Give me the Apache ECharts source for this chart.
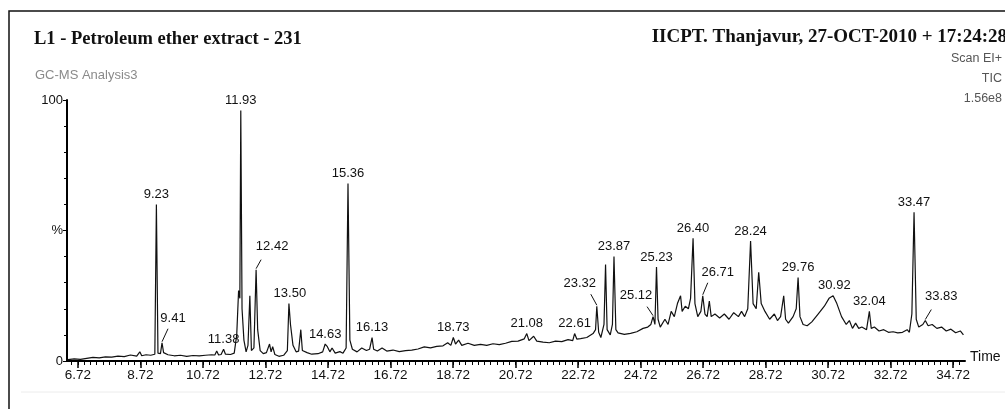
<!DOCTYPE html>
<html>
<head>
<meta charset="utf-8">
<title>GC-MS TIC</title>
<script src="https://cdn.jsdelivr.net/npm/echarts@6/dist/echarts.min.js"></script>
<style>
  * { margin: 0; padding: 0; }
  html, body { width: 1005px; height: 409px; background: #fff; overflow: hidden; }
  #main { width: 1005px; height: 409px; }
</style>
</head>
<body>
<div id="main"></div>
<script>
// retention time (min) and relative abundance (%) of the TIC trace
const rt = [
  6.40, 6.60, 6.80, 7.00, 7.20, 7.40, 7.60, 7.80, 8.00, 8.20, 8.40, 8.60, 8.70, 8.76, 8.90, 9.05, 9.18, 9.23, 9.28, 9.36,
  9.41, 9.46, 9.60, 9.80, 10.00, 10.20, 10.40, 10.60, 10.80, 11.00, 11.10, 11.16, 11.22, 11.30, 11.38, 11.44, 11.60, 11.72, 11.80, 11.86,
  11.90, 11.93, 11.97, 12.03, 12.10, 12.16, 12.22, 12.27, 12.35, 12.42, 12.47, 12.55, 12.65, 12.75, 12.85, 12.90, 12.95, 13.02, 13.15, 13.30,
  13.42, 13.47, 13.52, 13.60, 13.70, 13.78, 13.85, 13.90, 14.05, 14.20, 14.40, 14.55, 14.63, 14.70, 14.78, 14.85, 14.95, 15.10, 15.20, 15.30,
  15.36, 15.42, 15.50, 15.65, 15.80, 15.95, 16.05, 16.13, 16.18, 16.30, 16.45, 16.60, 16.80, 17.00, 17.20, 17.40, 17.60, 17.80, 18.00, 18.20,
  18.40, 18.55, 18.65, 18.73, 18.80, 18.90, 19.00, 19.20, 19.40, 19.60, 19.80, 20.00, 20.20, 20.40, 20.60, 20.80, 21.00, 21.08, 21.15, 21.30,
  21.40, 21.60, 21.80, 22.00, 22.20, 22.40, 22.55, 22.61, 22.68, 22.80, 23.00, 23.20, 23.28, 23.32, 23.38, 23.45, 23.55, 23.60, 23.65, 23.75,
  23.82, 23.87, 23.93, 24.00, 24.20, 24.40, 24.60, 24.80, 24.95, 25.05, 25.12, 25.18, 25.23, 25.28, 25.35, 25.50, 25.60, 25.70, 25.80, 25.90,
  26.00, 26.05, 26.15, 26.25, 26.32, 26.40, 26.46, 26.55, 26.65, 26.71, 26.78, 26.85, 26.92, 26.98, 27.10, 27.25, 27.40, 27.55, 27.70, 27.85,
  27.95, 28.05, 28.15, 28.24, 28.32, 28.42, 28.50, 28.58, 28.70, 28.85, 29.00, 29.10, 29.20, 29.30, 29.36, 29.45, 29.60, 29.70, 29.76, 29.82,
  29.92, 30.05, 30.20, 30.40, 30.60, 30.75, 30.88, 31.00, 31.15, 31.30, 31.40, 31.50, 31.60, 31.70, 31.80, 31.95, 32.04, 32.10, 32.20, 32.35,
  32.50, 32.65, 32.80, 32.95, 33.10, 33.25, 33.32, 33.40, 33.47, 33.54, 33.62, 33.75, 33.83, 33.92, 34.05, 34.20, 34.35, 34.50, 34.65, 34.80,
  34.95, 35.05
];
const abund = [
  0.5, 0.8, 0.6, 1.0, 1.4, 1.2, 1.6, 1.5, 1.9, 1.7, 2.3, 1.9, 3.5, 2.0, 2.4, 2.2, 2.6, 60, 3.0, 2.8,
  7, 3.2, 2.4, 2.0, 2.2, 1.8, 2.1, 2.0, 2.2, 2.4, 2.3, 3.8, 2.3, 2.5, 4.5, 2.6, 2.5, 3.0, 10, 27,
  24, 96, 20, 8, 3.5, 6, 25, 4, 5, 35, 12, 4, 2.8, 3.2, 6.5, 3.5, 5.5, 2.5, 1.8, 2.2,
  4, 22, 14, 6, 3.5, 3.8, 12, 4, 3.2, 2.6, 2.8, 3.5, 6.5, 5.5, 3.5, 5, 3.0, 3.6, 3.0, 5,
  68, 8, 4.5, 3.5, 5, 4, 4.5, 9, 4.5, 3.8, 5, 3.8, 4.2, 3.6, 4.0, 4.2, 4.6, 5.4, 5.0, 5.6,
  5.8, 7, 6, 9, 6.5, 8, 6, 6.8, 6.0, 6.4, 6.0, 6.6, 6.3, 6.8, 7.5, 7.6, 8.5, 10.5, 7.8, 9.5,
  7.6, 7.2, 7.0, 7.6, 7.4, 8.2, 7.8, 10.5, 8.4, 8.6, 9.0, 10.5, 12, 21, 11, 9, 14, 37, 12, 10,
  14, 40, 12, 10.8, 10.2, 10.6, 11.2, 12.5, 13, 14, 17, 14, 36, 16, 13, 16, 14, 19, 17, 22,
  25, 19, 21, 20, 24, 47, 22, 17, 19, 25, 18, 17, 23, 17, 18, 16.5, 18, 16, 18.5, 17,
  19, 17, 20, 46, 22, 20, 34, 22, 19, 16, 18, 15.5, 17, 25, 16, 14.5, 17, 20, 32, 17,
  14, 13.5, 15, 18, 21, 24, 25, 22, 17, 14, 15.5, 12.5, 14.5, 12.5, 13, 12, 19, 12.5, 13, 11.5,
  12, 11, 11.2, 10.8, 11, 12, 11, 18, 57, 16, 13, 14, 15.5, 13.5, 14, 12.5, 13, 11.5, 12.2, 10.8,
  11.5, 10
];

// annotated peaks (label = retention time), anchored at the peak apex
const peakLabels = ['9.23', '11.38', '11.93', '13.50', '14.63', '15.36', '16.13', '18.73', '21.08',
  '22.61', '23.87', '25.23', '26.40', '28.24', '29.76', '30.92', '32.04', '33.47'];
const peakHeights = [60, 4.5, 96, 22, 6.5, 68, 9, 9, 10.5, 10.5, 40, 36, 47, 46, 32, 25, 19, 57];

// peaks whose labels sit off to the side with a leader line
const leaderLabels = ['9.41', '12.42', '23.32', '25.12', '26.71', '33.83'];
const leaderHeights = [7, 35, 21, 17, 25, 15.5];

const xTickLabels = ['6.72', '8.72', '10.72', '12.72', '14.72', '16.72', '18.72',
  '20.72', '22.72', '24.72', '26.72', '28.72', '30.72', '32.72', '34.72'];

const headerRight = ['Scan EI+', 'TIC', '1.56e8'];

// pixel offsets from the apex: leader end (dx, dy), label centre (dx, dy)
const leaderShift = [
  [6, -14, 11, -24], [5, -10, 16, -23], [-6, -12, -17, -23],
  [-6, -10, -17, -21], [5, -13, 15, -23], [6, -11, 16, -24]
];

const X_MIN = 6.37, X_MAX = 35.1;
const sans = '"Liberation Sans", Arial, sans-serif';
const serif = '"Liberation Serif", "Times New Roman", serif';

const minorTicks = [];
for (let t = 6.52; t < X_MAX; t += 0.2) {
  minorTicks.push(+t.toFixed(2));
}

const myChart = echarts.init(document.getElementById('main'), null, { renderer: 'canvas' });

const titles = [
  {
    text: 'L1 - Petroleum ether extract - 231',
    left: 29, top: 25,
    textStyle: { fontFamily: serif, fontWeight: 'bold', fontSize: 18.5, color: '#111' }
  },
  {
    text: 'GC-MS Analysis3',
    left: 30, top: 64,
    textStyle: { fontFamily: sans, fontWeight: 'normal', fontSize: 13, color: '#8a8a8a' }
  },
  {
    text: 'IICPT. Thanjavur, 27-OCT-2010 + 17:24:28',
    right: -7, top: 23,
    textStyle: { fontFamily: serif, fontWeight: 'bold', fontSize: 19, color: '#111' }
  }
];
headerRight.forEach((s, i) => {
  titles.push({
    text: s, right: 3, top: 52 + i * 20, padding: 0,
    textStyle: { fontFamily: sans, fontWeight: 'normal', fontSize: 12.5, color: '#555' }
  });
});

const option = {
  animation: false,
  backgroundColor: '#fff',
  title: titles,
  graphic: [
    {
      type: 'rect', silent: true, z: 0,
      shape: { x: 9, y: 11, width: 1100, height: 500 },
      style: { fill: null, stroke: '#111', lineWidth: 1.5 }
    },
    {
      type: 'line', silent: true,
      shape: { x1: 21, y1: 392, x2: 1005, y2: 392 },
      style: { stroke: '#ececec', lineWidth: 1 }
    }
  ],
  grid: { left: 67, right: 40, top: 100, bottom: 48 },
  xAxis: [
    {
      type: 'value', min: X_MIN, max: X_MAX,
      name: 'Time', nameLocation: 'end', nameGap: 5,
      nameTextStyle: { fontFamily: sans, fontSize: 14, color: '#111', verticalAlign: 'bottom', padding: [0, 0, -3, 0] },
      axisLine: { show: true, onZero: false, lineStyle: { color: '#000', width: 2 } },
      axisTick: { show: true, length: 7, customValues: xTickLabels.map(Number), lineStyle: { color: '#000', width: 1.5 } },
      axisLabel: {
        customValues: xTickLabels.map(Number),
        formatter: v => v.toFixed(2),
        fontFamily: sans, fontSize: 13.5, color: '#111', margin: 7
      },
      splitLine: { show: false }
    },
    {
      type: 'value', min: X_MIN, max: X_MAX, gridIndex: 0, position: 'bottom',
      axisLine: { show: false, onZero: false },
      axisTick: { show: true, length: 4, customValues: minorTicks, lineStyle: { color: '#000', width: 1 } },
      axisLabel: { show: false },
      splitLine: { show: false }
    }
  ],
  yAxis: {
    type: 'value', min: 0, max: 100, interval: 50,
    axisLine: { show: true, lineStyle: { color: '#000', width: 2 } },
    axisTick: { show: true, length: 4, lineStyle: { color: '#000' } },
    minorTick: { show: true, splitNumber: 5, length: 3, lineStyle: { color: '#000' } },
    axisLabel: {
      fontFamily: sans, fontSize: 13, color: '#111', margin: 4,
      formatter: v => (v === 50 ? '%' : String(v))
    },
    splitLine: { show: false }
  },
  series: [
    {
      name: 'TIC', type: 'line',
      data: rt.map((t, i) => [t, abund[i]]),
      showSymbol: false, symbol: 'none',
      lineStyle: { color: '#111', width: 1.2 },
      z: 3
    },
    {
      name: 'peak labels', type: 'custom',
      data: peakLabels.map((s, i) => [Number(s), peakHeights[i]]),
      renderItem: (params, api) => {
        const i = params.dataIndex;
        const p = api.coord([api.value(0), api.value(1)]);
        return {
          type: 'text',
          x: p[0], y: p[1] - 10,
          style: {
            text: peakLabels[i], align: 'center', verticalAlign: 'middle',
            fontFamily: sans, fontSize: 13, fill: '#111'
          }
        };
      },
      z: 4
    },
    {
      name: 'peaks with leader', type: 'custom',
      data: leaderLabels.map((s, i) => [Number(s), leaderHeights[i]]),
      renderItem: (params, api) => {
        const i = params.dataIndex;
        const p = api.coord([api.value(0), api.value(1)]);
        const s = leaderShift[i];
        return {
          type: 'group',
          children: [
            {
              type: 'line',
              shape: { x1: p[0], y1: p[1] - 1, x2: p[0] + s[0], y2: p[1] + s[1] },
              style: { stroke: '#111', lineWidth: 1 }
            },
            {
              type: 'text',
              x: p[0] + s[2], y: p[1] + s[3],
              style: {
                text: leaderLabels[i], align: 'center', verticalAlign: 'middle',
                fontFamily: sans, fontSize: 13, fill: '#111'
              }
            }
          ]
        };
      },
      z: 4
    }
  ]
};

myChart.setOption(option);
</script>
</body>
</html>
